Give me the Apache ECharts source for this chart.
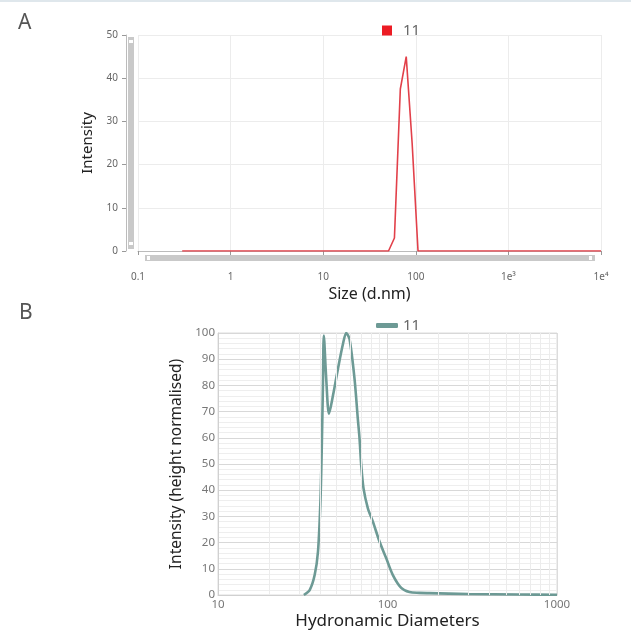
<!DOCTYPE html>
<html>
<head>
<meta charset="utf-8">
<script src="https://cdn.jsdelivr.net/npm/echarts@6/dist/echarts.min.js"></script>
<style>
html,body{margin:0;padding:0;background:#fff;}
#c{width:631px;height:631px;}
</style>
</head>
<body>
<div id="c"></div>
<script>
// ---- Data: panel A (Size distribution, log x) ----
var sizeA = [0.3, 43.82, 50.75, 58.77, 68.06, 78.82, 91.28, 105.7, 10000];
var intensityA = [0, 0, 0, 3, 37.5, 45, 25, 0, 0];
var tickLabelsA = ['0.1', '1', '10', '100', '1e\u00b3', '1e\u2074'];

// ---- Data: panel B (height normalised, log x) ----
var sizeB = [32.1, 34.8, 37.2, 38.9, 40.2, 40.9, 41.6, 42.1, 43.5, 45.2, 47.7, 51, 54.6, 57.1, 59.7, 63.9, 66.8, 68.4, 70, 72.2, 76.6, 82, 89.7, 98.2, 107.4, 120.5, 134.6, 154, 176.6, 300, 600, 1000];
var intensityB = [0, 2, 7.7, 16.6, 35.6, 54.6, 80, 99, 82.5, 69.2, 76.2, 86.3, 95.8, 100, 97.7, 82.5, 67.3, 59.7, 49.5, 40.7, 33.1, 28, 20.4, 14.1, 7.7, 2.7, 1.1, 0.8, 0.7, 0.4, 0.2, 0.1];
var tickLabelsB = ['10', '100', '1000'];
var minorGridB = [20, 30, 40, 50, 60, 70, 80, 90, 200, 300, 400, 500, 600, 700, 800, 900];

function zip(xs, ys) { return xs.map(function (x, i) { return [x, ys[i]]; }); }

var FONT = '"Noto Sans", "Open Sans", sans-serif';
var chart = echarts.init(document.getElementById('c'), null, {renderer: 'canvas'});

var option = {
  backgroundColor: '#fff',
  animation: false,
  textStyle: {fontFamily: FONT},
  graphic: [
    {type: 'rect', shape: {x: 0, y: 0, width: 631, height: 2}, style: {fill: '#dfe7ec'}},
    {type: 'text', left: 18, top: 13, style: {text: 'A', font: '21px ' + FONT, fill: '#555'}},
    {type: 'text', left: 19, top: 303, style: {text: 'B', font: '21px ' + FONT, fill: '#555'}},
    // scrollbar-like sliders of panel A
    {type: 'rect', shape: {x: 128, y: 37, width: 6, height: 212}, style: {fill: '#c9c9c9'}},
    {type: 'rect', shape: {x: 129, y: 40, width: 4, height: 3}, style: {fill: '#fff'}},
    {type: 'rect', shape: {x: 129, y: 242, width: 4, height: 3}, style: {fill: '#fff'}},
    {type: 'rect', shape: {x: 145, y: 255, width: 450, height: 6}, style: {fill: '#c9c9c9'}},
    {type: 'rect', shape: {x: 147, y: 256, width: 3, height: 4}, style: {fill: '#fff'}},
    {type: 'rect', shape: {x: 589, y: 256, width: 3, height: 4}, style: {fill: '#fff'}}
  ],
  legend: [
    {
      left: 377, top: 18, itemWidth: 10, itemHeight: 10, itemGap: 10,
      icon: 'rect',
      data: [{name: 'A11', itemStyle: {color: '#ec1c24'}}],
      formatter: function () { return '11'; },
      textStyle: {fontSize: 15, color: '#666', fontFamily: FONT, padding: [0, 0, 0, 6]}
    },
    {
      left: 371, top: 313, itemWidth: 22, itemHeight: 5, itemGap: 10,
      icon: 'roundRect',
      data: [{name: 'B11', itemStyle: {color: '#6d9a95'}}],
      formatter: function () { return '11'; },
      textStyle: {fontSize: 15, color: '#666', fontFamily: FONT, padding: [0, 0, 0, 0]}
    }
  ],
  grid: [
    {left: 138, right: 30, top: 35, height: 216, containLabel: false},
    {left: 218, right: 74, top: 333, height: 264, containLabel: false, show: true, borderColor: '#dcdcdc', borderWidth: 1}
  ],
  xAxis: [
    {
      gridIndex: 0, type: 'log', logBase: 10, min: 0.1, max: 10000,
      offset: 13,
      name: 'Size (d.nm)', nameLocation: 'middle', nameGap: 22,
      nameTextStyle: {fontSize: 16, color: '#222', fontFamily: FONT},
      axisLine: {show: true, lineStyle: {color: '#bbb', width: 1}},
      axisTick: {show: true, length: 4, lineStyle: {color: '#999'}},
      axisLabel: {
        margin: 8, fontSize: 10, color: '#666', fontFamily: FONT,
        formatter: function (v) { var i = Math.round(Math.log10(v)) + 1; return tickLabelsA[i] !== undefined ? tickLabelsA[i] : ''; }
      },
      splitLine: {show: true, lineStyle: {color: '#ececec', width: 1}}
    },
    {
      gridIndex: 1, type: 'log', logBase: 10, min: 10, max: 1000,
      name: 'Hydronamic Diameters', nameLocation: 'middle', nameGap: 18,
      nameTextStyle: {fontSize: 17, color: '#222', fontFamily: FONT},
      axisLine: {show: true, lineStyle: {color: '#d0d0d0', width: 1}},
      axisTick: {show: false},
      axisLabel: {
        margin: 4, fontSize: 11.5, color: '#777', fontFamily: FONT,
        formatter: function (v) { var i = Math.round(Math.log10(v)) - 1; return tickLabelsB[i] !== undefined ? tickLabelsB[i] : ''; }
      },
      splitLine: {show: true, lineStyle: {color: '#dcdcdc', width: 1}}
    }
  ],
  yAxis: [
    {
      gridIndex: 0, type: 'value', min: 0, max: 50, interval: 10,
      offset: 12,
      name: 'Intensity', nameLocation: 'middle', nameGap: 23,
      nameTextStyle: {fontSize: 15, color: '#222', fontFamily: FONT},
      axisLine: {show: true, lineStyle: {color: '#bbb', width: 1}},
      axisTick: {show: true, length: 4, lineStyle: {color: '#999'}},
      axisLabel: {margin: 8, fontSize: 10, color: '#666', fontFamily: FONT},
      splitLine: {show: true, lineStyle: {color: '#ececec', width: 1}}
    },
    {
      gridIndex: 1, type: 'value', min: 0, max: 100, interval: 10,
      name: 'Intensity (height normalised)', nameLocation: 'middle', nameGap: 24,
      nameTextStyle: {fontSize: 15.5, color: '#222', fontFamily: FONT},
      axisLine: {show: true, lineStyle: {color: '#d0d0d0', width: 1}},
      axisTick: {show: false},
      axisLabel: {margin: 3, fontSize: 11.5, color: '#777', fontFamily: FONT},
      splitLine: {show: true, lineStyle: {color: '#d8d8d8', width: 1}},
      minorTick: {show: false, splitNumber: 5},
      minorSplitLine: {show: true, lineStyle: {color: '#eeeeee', width: 1}}
    }
  ],
  series: [
    {
      name: 'A11', type: 'line', xAxisIndex: 0, yAxisIndex: 0,
      data: zip(sizeA, intensityA),
      showSymbol: false, symbol: 'none',
      lineStyle: {color: '#e2404a', width: 1.6},
      itemStyle: {color: '#ec1c24'},
      z: 3
    },
    {
      name: 'gridB', type: 'line', xAxisIndex: 1, yAxisIndex: 1,
      data: [], silent: true, z: 1,
      markLine: {
        silent: true, symbol: ['none', 'none'], animation: false,
        label: {show: false},
        lineStyle: {color: '#ececec', width: 1, type: 'solid'},
        emphasis: {disabled: true},
        data: minorGridB.map(function (v) { return {xAxis: v}; })
      }
    },
    {
      name: 'B11', type: 'line', xAxisIndex: 1, yAxisIndex: 1,
      data: zip(sizeB, intensityB),
      showSymbol: false, symbol: 'none',
      smooth: 0.3,
      lineStyle: {color: '#6d9a95', width: 2.6},
      itemStyle: {color: '#6d9a95'},
      z: 3
    }
  ]
};
chart.setOption(option);
</script>
</body>
</html>
